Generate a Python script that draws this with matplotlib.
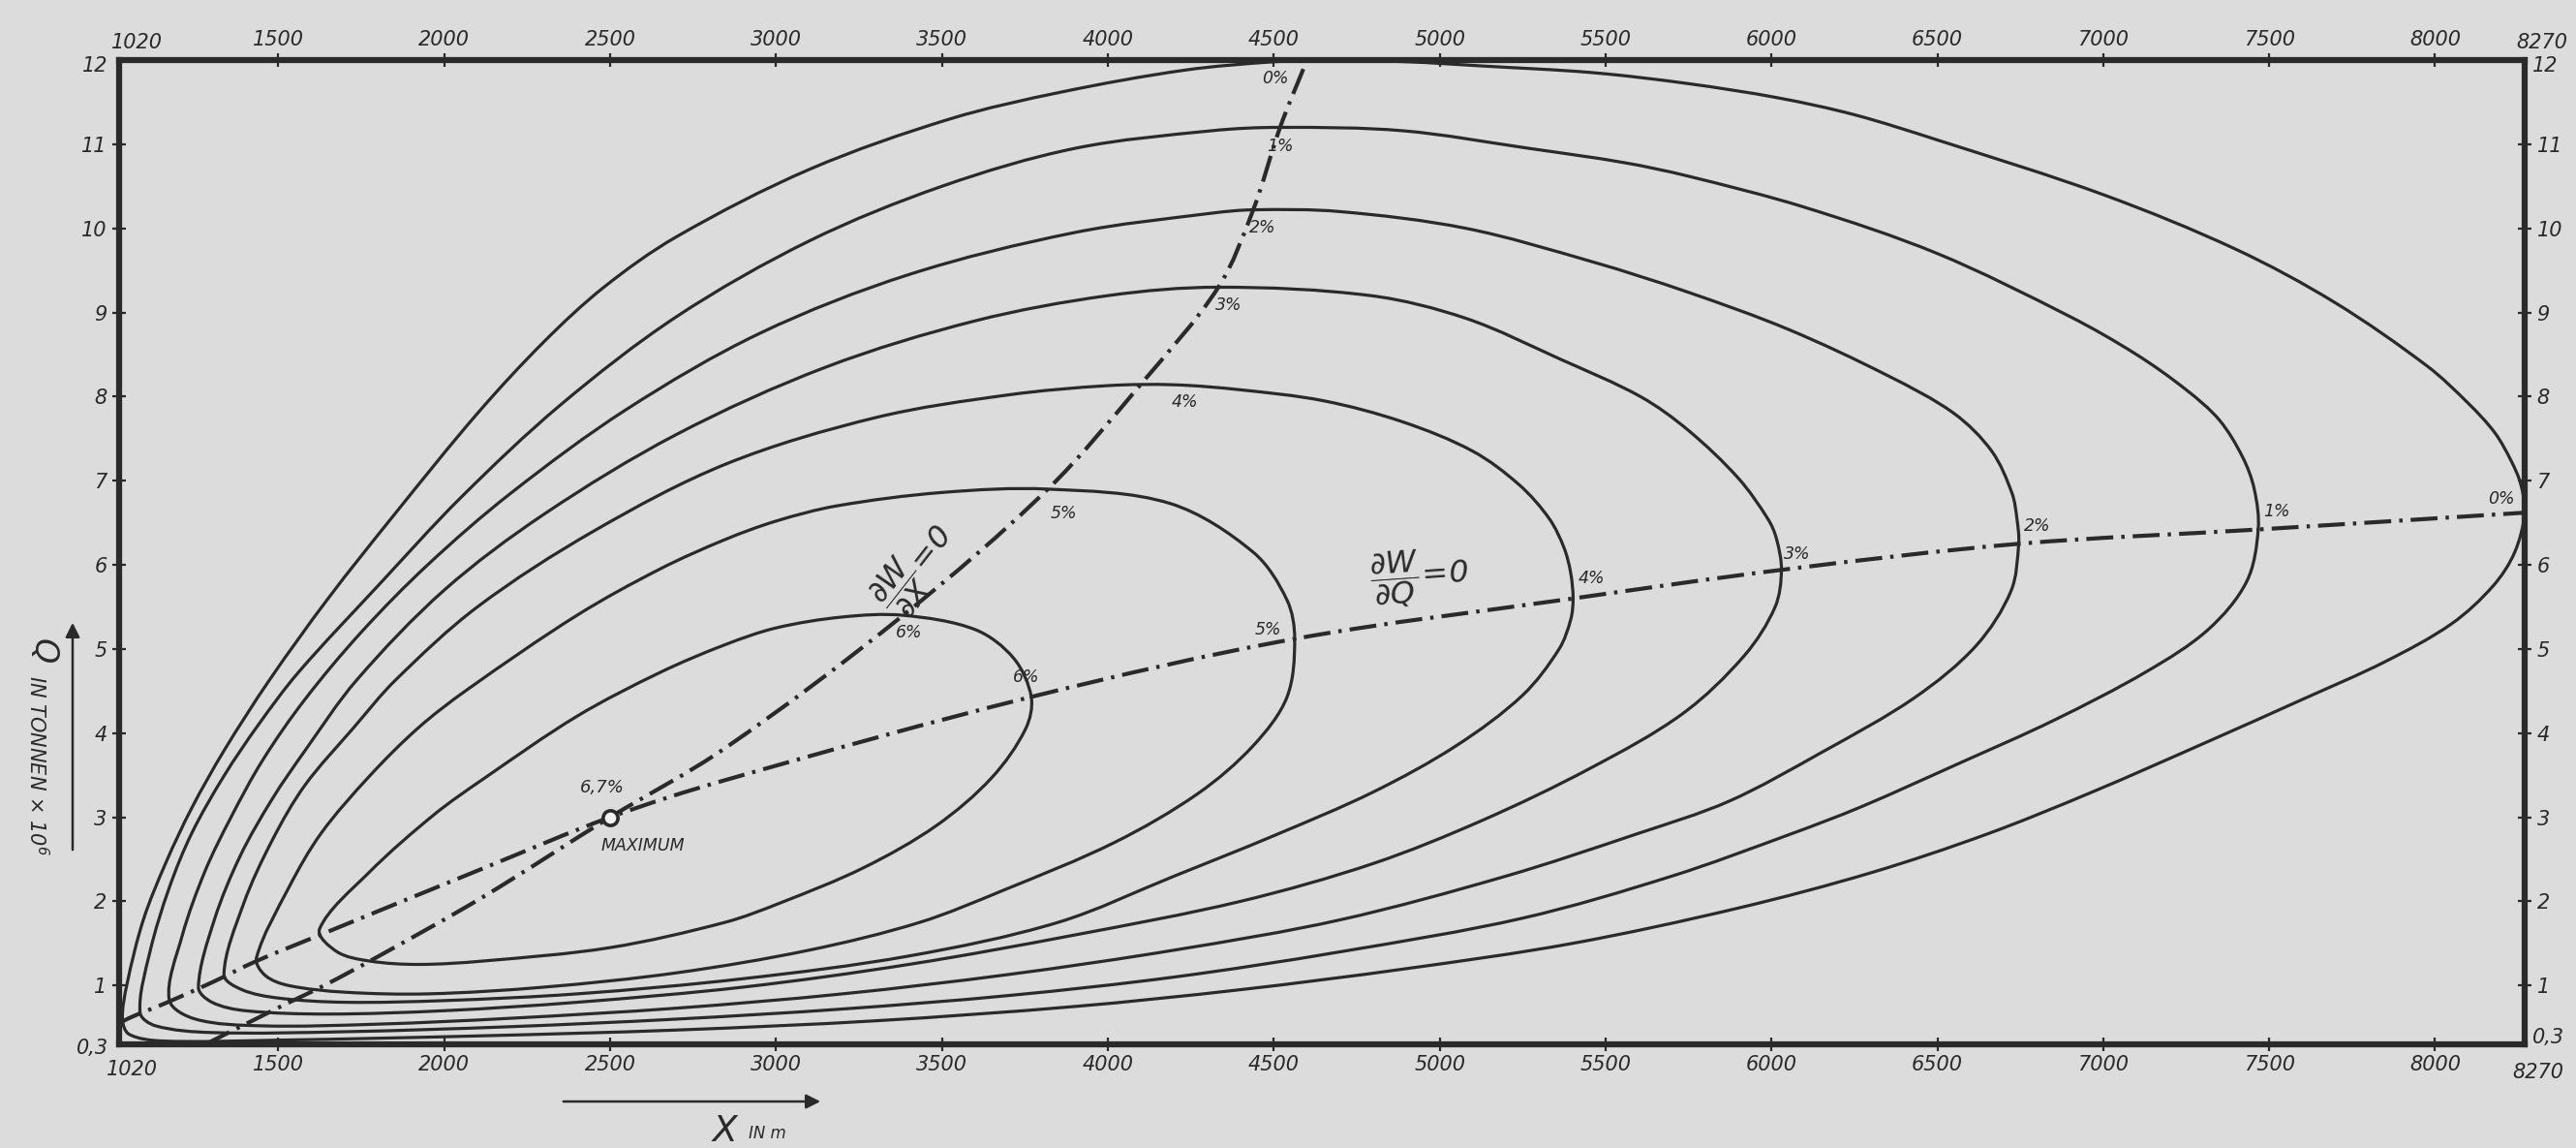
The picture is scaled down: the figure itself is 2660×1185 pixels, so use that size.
import matplotlib
matplotlib.use('Agg')
import matplotlib.pyplot as plt
from matplotlib.path import Path
from matplotlib.patches import PathPatch, FancyArrowPatch

# ---------------- data ----------------
LEVEL_LABELS = ['0%', '1%', '2%', '3%', '4%', '5%', '6%']

C0_UP_X = [1030, 1044, 1093, 1161, 1239, 1336, 1473, 1650, 1850, 2100, 2300, 2481, 2700, 3100, 3524, 3860, 4231,
           4500, 4650, 4900, 5127, 5462, 5749, 6021, 6250, 6500, 7000, 7400, 7697, 7977, 8100, 8180, 8230, 8258, 8270]
C0_UP_Q = [0.60, 1.02, 1.78, 2.46, 3.11, 3.79, 4.63, 5.60, 6.60, 7.80, 8.65, 9.30, 9.90, 10.70, 11.30, 11.62, 11.88,
           11.98, 12.00, 11.98, 11.93, 11.85, 11.72, 11.55, 11.35, 11.05, 10.40, 9.75, 9.12, 8.36, 7.92, 7.57, 7.23, 6.96, 6.62]
C0_LO_X = [1030, 1050, 1150, 1500, 2100, 2700, 3300, 3900, 4400, 4900, 5400, 5900, 6300, 6650, 6967, 7316, 7600,
           7850, 8050, 8175, 8240, 8270]
C0_LO_Q = [0.60, 0.42, 0.34, 0.35, 0.40, 0.47, 0.58, 0.75, 0.95, 1.20, 1.50, 1.92, 2.34, 2.80, 3.30, 3.90, 4.40,
           4.85, 5.30, 5.75, 6.15, 6.62]

C1_UP_X = [1083, 1113, 1171, 1239, 1336, 1440, 1560, 1800, 2050, 2350, 2700, 3100, 3500, 3900, 4313, 4519, 4888,
           5270, 5557, 5749, 6100, 6500, 6900, 7100, 7250, 7350, 7420, 7455, 7467]
C1_UP_Q = [0.68, 1.40, 2.16, 2.81, 3.49, 4.10, 4.72, 5.75, 6.80, 7.90, 8.95, 9.85, 10.50, 10.95, 11.16, 11.20, 11.16,
           10.95, 10.78, 10.62, 10.25, 9.70, 8.95, 8.50, 8.08, 7.72, 7.28, 6.90, 6.42]
C1_LO_X = [1083, 1130, 1300, 1700, 2200, 2700, 3200, 3700, 4200, 4700, 5250, 5700, 6058, 6268, 6571, 6850, 7130,
           7316, 7432, 7467]
C1_LO_Q = [0.68, 0.52, 0.44, 0.45, 0.51, 0.60, 0.72, 0.88, 1.10, 1.40, 1.80, 2.30, 2.80, 3.12, 3.65, 4.15, 4.73,
           5.23, 5.80, 6.42]

C2_UP_X = [1171, 1210, 1278, 1356, 1453, 1580, 1750, 1950, 2200, 2550, 2950, 3400, 3900, 4313, 4438, 4696, 5079,
           5462, 5749, 6050, 6350, 6550, 6664, 6725, 6740, 6745]
C2_UP_Q = [0.83, 1.59, 2.35, 2.99, 3.68, 4.40, 5.20, 6.00, 6.85, 7.85, 8.75, 9.45, 9.95, 10.18, 10.22, 10.20, 10.00,
           9.60, 9.24, 8.80, 8.25, 7.80, 7.35, 6.85, 6.54, 6.25]
C2_LO_X = [1171, 1250, 1450, 1800, 2200, 2700, 3200, 3700, 4200, 4700, 5200, 5593, 5872, 6151, 6431, 6617, 6722, 6745]
C2_LO_Q = [0.83, 0.60, 0.52, 0.54, 0.61, 0.73, 0.90, 1.13, 1.42, 1.78, 2.30, 2.80, 3.19, 3.77, 4.42, 5.04, 5.69, 6.25]

C3_UP_X = [1259, 1307, 1385, 1482, 1580, 1736, 2000, 2300, 2700, 3150, 3600, 4000, 4333, 4792, 5079, 5366, 5605,
           5749, 5900, 5990, 6015, 6030]
C3_UP_Q = [0.98, 1.78, 2.54, 3.22, 3.79, 4.63, 5.70, 6.60, 7.55, 8.35, 8.90, 9.20, 9.30, 9.20, 8.93, 8.44, 8.00,
           7.60, 7.03, 6.54, 6.31, 5.94]
C3_LO_X = [1259, 1300, 1400, 1650, 2000, 2400, 2900, 3400, 3900, 4400, 4800, 5127, 5453, 5732, 5918, 6011, 6030]
C3_LO_Q = [0.98, 0.80, 0.70, 0.66, 0.70, 0.80, 0.98, 1.25, 1.60, 2.00, 2.45, 2.96, 3.58, 4.23, 4.92, 5.50, 5.94]

C4_UP_X = [1336, 1395, 1482, 1580, 1726, 1853, 2100, 2450, 2850, 3300, 3700, 4000, 4200, 4400, 4650, 4888, 5100,
           5240, 5330, 5375, 5395, 5402]
C4_UP_Q = [1.13, 1.97, 2.73, 3.38, 4.06, 4.63, 5.50, 6.40, 7.20, 7.75, 8.02, 8.13, 8.14, 8.08, 7.95, 7.70, 7.35,
           6.95, 6.55, 6.20, 5.90, 5.60]
C4_LO_X = [1336, 1390, 1500, 1700, 2000, 2400, 2900, 3400, 3850, 4200, 4500, 4800, 5050, 5250, 5360, 5395, 5402]
C4_LO_Q = [1.13, 0.95, 0.85, 0.80, 0.82, 0.90, 1.08, 1.35, 1.75, 2.30, 2.78, 3.30, 3.85, 4.45, 5.00, 5.35, 5.60]

C5_UP_X = [1434, 1531, 1629, 1775, 1921, 2067, 2400, 2650, 2846, 3000, 3182, 3500, 3819, 4187, 4438, 4540, 4563]
C5_UP_Q = [1.33, 2.16, 2.81, 3.49, 4.06, 4.51, 5.40, 5.95, 6.30, 6.52, 6.70, 6.86, 6.90, 6.73, 6.15, 5.58, 5.12]
C5_LO_X = [1434, 1460, 1530, 1700, 1950, 2300, 2700, 3100, 3433, 3684, 4020, 4271, 4438, 4540, 4563]
C5_LO_Q = [1.33, 1.12, 1.00, 0.92, 0.90, 0.98, 1.15, 1.42, 1.75, 2.13, 2.70, 3.28, 3.85, 4.43, 5.12]

C6_UP_X = [1624, 1775, 1969, 2116, 2400, 2650, 2846, 3000, 3200, 3383, 3600, 3716, 3769]
C6_UP_Q = [1.67, 2.35, 3.03, 3.45, 4.20, 4.72, 5.05, 5.25, 5.38, 5.40, 5.23, 4.89, 4.43]
C6_LO_X = [1624, 1677, 1775, 1921, 2116, 2500, 2846, 3012, 3264, 3483, 3650, 3752, 3769]
C6_LO_Q = [1.67, 1.40, 1.29, 1.25, 1.29, 1.45, 1.75, 1.98, 2.40, 2.90, 3.47, 4.05, 4.43]

# dW/dQ = 0 (through the right tips) and dW/dX = 0 (through the tops)
DWDQ_X = [1020, 1034, 1160, 1302, 1434, 1619, 2116, 2500, 2846, 3769, 4563, 5402, 6030, 6745, 7467, 8270]
DWDQ_Q = [0.50, 0.58, 0.79, 1.04, 1.29, 1.59, 2.39, 3.00, 3.44, 4.43, 5.12, 5.60, 5.94, 6.25, 6.42, 6.62]
DWDX_X = [1280, 1502, 1638, 1794, 2116, 2500, 2846, 3383, 3819, 4100, 4333, 4438, 4519, 4600]
DWDX_Q = [0.30, 0.74, 1.00, 1.33, 2.05, 3.00, 3.82, 5.40, 6.90, 8.15, 9.30, 10.22, 11.20, 12.00]

MAX_X = [2500]
MAX_Q = [3.0]
MAX_LABEL = '6,7%'

X_TICKS = [1500, 2000, 2500, 3000, 3500, 4000, 4500, 5000, 5500, 6000, 6500, 7000, 7500, 8000]
Y_TICKS = [1, 2, 3, 4, 5, 6, 7, 8, 9, 10, 11]
X_MIN, X_MAX = 1020, 8270
Q_MIN, Q_MAX = 0.3, 12

CONTOURS = [
    (C0_UP_X, C0_UP_Q, C0_LO_X, C0_LO_Q),
    (C1_UP_X, C1_UP_Q, C1_LO_X, C1_LO_Q),
    (C2_UP_X, C2_UP_Q, C2_LO_X, C2_LO_Q),
    (C3_UP_X, C3_UP_Q, C3_LO_X, C3_LO_Q),
    (C4_UP_X, C4_UP_Q, C4_LO_X, C4_LO_Q),
    (C5_UP_X, C5_UP_Q, C5_LO_X, C5_LO_Q),
    (C6_UP_X, C6_UP_Q, C6_LO_X, C6_LO_Q),
]

# ---------------- style ----------------
plt.rcParams['font.family'] = ['Liberation Sans Narrow', 'DejaVu Sans']
plt.rcParams['font.style'] = 'italic'
plt.rcParams['lines.scale_dashes'] = False
plt.rcParams['mathtext.fontset'] = 'dejavusans'
BG = '#dcdcdc'
INK = '#2a2a2a'

W, H = 2660, 1185
fig = plt.figure(figsize=(W / 100, H / 100), dpi=100, facecolor=BG)
L, R, T, B = 123, 2607, 62, 1078
ax = fig.add_axes([L / W, 1 - B / H, (R - L) / W, (B - T) / H])
ax.set_facecolor(BG)
ax.set_xlim(X_MIN, X_MAX)
ax.set_ylim(Q_MIN, Q_MAX)
for s in ax.spines.values():
    s.set_linewidth(4.5)
    s.set_color(INK)
    s.set_zorder(5)

SX = (R - L) / (X_MAX - X_MIN)   # pixels per metre (smoothing geometry only)
SY = (B - T) / (Q_MAX - Q_MIN)   # pixels per unit Q


def smooth_path(xs, qs, closed=False):
    """Smooth curve through the read points (cubic Bezier, chord-scaled tangents)."""
    P = [(x * SX, q * SY) for x, q in zip(xs, qs)]
    n = len(P)

    def d(a, b):
        return ((a[0] - b[0]) ** 2 + (a[1] - b[1]) ** 2) ** 0.5

    verts = [P[0]]
    codes = [Path.MOVETO]
    nseg = n if closed else n - 1
    for i in range(nseg):
        p1 = P[i]
        p2 = P[(i + 1) % n]
        p0 = P[(i - 1) % n] if (closed or i > 0) else p1
        p3 = P[(i + 2) % n] if (closed or i + 2 < n) else p2
        d01, d12, d23 = d(p0, p1), d(p1, p2), d(p2, p3)
        m1 = ((p2[0] - p0[0]) / (d01 + d12), (p2[1] - p0[1]) / (d01 + d12))
        m2 = ((p3[0] - p1[0]) / (d12 + d23), (p3[1] - p1[1]) / (d12 + d23))
        c1 = (p1[0] + m1[0] * d12 / 3, p1[1] + m1[1] * d12 / 3)
        c2 = (p2[0] - m2[0] * d12 / 3, p2[1] - m2[1] * d12 / 3)
        verts += [c1, c2, p2]
        codes += [Path.CURVE4] * 3
    verts = [(vx / SX, vy / SY) for vx, vy in verts]
    return Path(verts, codes)


ax.set_xticks(X_TICKS)
ax.set_xticklabels([str(v) for v in X_TICKS])
ax.set_yticks(Y_TICKS)
ax.set_yticklabels([str(v) for v in Y_TICKS])
ax.tick_params(axis='both', which='both', direction='inout', length=10, width=1.6,
               colors=INK, labelsize=15, top=True, right=True, labeltop=True, labelright=True)
ax.tick_params(axis='x', which='both', pad=3)
ax.tick_params(axis='y', which='both', pad=4)

# corner labels
corner = dict(fontsize=15, color=INK, textcoords='offset points', xycoords='axes fraction')
ax.annotate(str(X_MIN), xy=(0, 1), xytext=(13, 13), ha='center', va='center', **corner)
ax.annotate(str(X_MAX), xy=(1, 1), xytext=(13, 13), ha='center', va='center', **corner)
ax.annotate(str(X_MIN), xy=(0, 0), xytext=(10, -19), ha='center', va='center', **corner)
ax.annotate(str(X_MAX), xy=(1, 0), xytext=(10, -21), ha='center', va='center', **corner)
ax.annotate('12', xy=(0, 1), xytext=(-8, -4), ha='right', va='center', **corner)
ax.annotate('12', xy=(1, 1), xytext=(6, -4), ha='left', va='center', **corner)
ax.annotate('0,3', xy=(0, 0), xytext=(-8, -3), ha='right', va='center', **corner)
ax.annotate('0,3', xy=(1, 0), xytext=(6, 5), ha='left', va='center', **corner)

# ---------------- contours ----------------
for (ux, uq, lx, lq) in CONTOURS:
    xs = list(reversed(lx)) + ux[1:-1]
    qs = list(reversed(lq)) + uq[1:-1]
    ax.add_patch(PathPatch(smooth_path(xs, qs, closed=True), fill=False, edgecolor=INK, lw=2.3,
                           joinstyle='round', capstyle='round', zorder=3))

dashdot = (0, (20, 6, 2.5, 6))
for xs, qs in ((DWDQ_X, DWDQ_Q), (DWDX_X, DWDX_Q)):
    ax.add_patch(PathPatch(smooth_path(xs, qs), fill=False, edgecolor=INK, lw=3.0,
                           linestyle=dashdot, zorder=3))

ax.plot(MAX_X, MAX_Q, 'o', ms=11, mfc='#f2f2f2', mec=INK, mew=2.6, zorder=6)
ax.annotate(MAX_LABEL, xy=(MAX_X[0], MAX_Q[0]), xytext=(-6, 22), textcoords='offset points',
            ha='center', va='center', fontsize=13, color=INK)
ax.annotate('MAXIMUM', xy=(MAX_X[0], MAX_Q[0]), xytext=(24, -21), textcoords='offset points',
            ha='center', va='center', fontsize=12.5, color=INK)

# level labels at the tops (dW/dX=0) and at the right tips (dW/dQ=0)
top_off = [(-36, -14), (0, -14), (7, -13), (8, -13), (8, -13), (12, -18), (4, -13)]
tip_off = [(-17, 10), (14, 13), (14, 13), (12, 12), (14, 15), (-20, 7), (-4, 15)]
for i, (ux, uq, lx, lq) in enumerate(CONTOURS):
    k = max(range(len(uq)), key=lambda j: uq[j])
    ax.annotate(LEVEL_LABELS[i], xy=(ux[k], uq[k]), xytext=top_off[i], textcoords='offset points',
                ha='center', va='center', fontsize=12.5, color=INK, zorder=7)
    ax.annotate(LEVEL_LABELS[i], xy=(ux[-1], uq[-1]), xytext=tip_off[i], textcoords='offset points',
                ha='center', va='center', fontsize=12.5, color=INK, zorder=7)

# derivative labels
ax.text(3420, 5.95, r'$\dfrac{\partial \mathrm{W}}{\partial \mathrm{X}}\!=\!0$', fontsize=23, color=INK,
        rotation=52, ha='center', va='center', rotation_mode='anchor', zorder=7)
ax.text(4940, 5.85, r'$\dfrac{\partial \mathrm{W}}{\partial \mathrm{Q}}\!=\!0$', fontsize=23, color=INK,
        rotation=4, ha='center', va='center', rotation_mode='anchor', zorder=7)


# ---------------- axis titles with arrows ----------------
def fx(px):
    return px / W


def fy(py):
    return 1 - py / H


fig.add_artist(FancyArrowPatch((fx(579), fy(1137)), (fx(850), fy(1137)),
               transform=fig.transFigure, arrowstyle='-|>', mutation_scale=22, lw=1.8, color=INK))
fig.text(fx(748), fy(1168), 'X', fontsize=27, color=INK, ha='center', va='center')
fig.text(fx(773), fy(1170), 'IN m', fontsize=12, color=INK, ha='left', va='center')

fig.add_artist(FancyArrowPatch((fx(75), fy(880)), (fx(75), fy(640)),
               transform=fig.transFigure, arrowstyle='-|>', mutation_scale=22, lw=1.8, color=INK))
fig.text(fx(44), fy(672), 'Q', fontsize=24, color=INK, rotation=-90, ha='center', va='center')
fig.text(fx(38), fy(697), r'IN TONNEN × 10$^{6}$', fontsize=15, color=INK, rotation=-90,
         ha='center', va='top')

fig.savefig('out.png', dpi=100, facecolor=BG)
